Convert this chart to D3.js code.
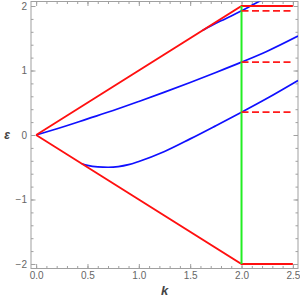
<!DOCTYPE html>
<html>
<head>
<meta charset="utf-8">
<script src="https://cdn.jsdelivr.net/npm/d3@7"></script>
<style>
  body { margin: 0; background: #fff; }
  svg { display: block; font-family: "Liberation Sans", Arial, sans-serif; }
</style>
</head>
<body>
<svg id="chart" width="300" height="300"></svg>
<script>
// branch starting at the origin
var kA = [0, 0.25, 0.5, 0.75, 1.0, 1.25, 1.5, 1.75, 2.0, 2.25, 2.55];
var eA = [0, 0.12, 0.25, 0.38, 0.52, 0.665, 0.815, 0.97, 1.13, 1.30, 1.535];

// lower branch (dips below zero)
var kB = [0.445, 0.5, 0.6, 0.7, 0.8, 0.9, 1.0, 1.25, 1.5, 1.75, 2.0, 2.25, 2.55];
var eB = [-0.445, -0.47, -0.494, -0.50, -0.49, -0.46, -0.41, -0.255, -0.06, 0.145, 0.354, 0.57, 0.846];

// top branch (leaves the red edge near k = 1.6)
var kC = [1.62, 1.7, 1.8, 1.9, 2.0, 2.1, 2.2];
var eC = [1.62, 1.69, 1.77, 1.845, 1.925, 2.01, 2.095];

// red edges
var upperEdgeK = [0, 2, 2.5], upperEdgeE = [0, 2, 2];
var lowerEdgeK = [0, 2, 2.5], lowerEdgeE = [0, -2, -2];

// green cut and dashed levels
var cutK = 2;
var cutRange = [-2, 2];
var levels = [1.925, 1.13, 0.354];
var levelEnd = 2.5;

var xTicks = [0, 0.5, 1, 1.5, 2, 2.5];
var yTicks = [-2, -1, 0, 1, 2];

var svg = d3.select("#chart");
var frameL = 31, frameR = 298, frameT = 1.5, frameB = 268.5;

var x = d3.scaleLinear().domain([-0.05, 2.55]).range([frameL, frameR]);
var y = d3.scaleLinear().domain([-2.07, 2.07]).range([frameB, frameT]);

var xMinor = d3.range(0, 26).map(function (i) { return i / 10; });
var yMinor = d3.range(-10, 11).map(function (i) { return i / 5; });

// clip for the curves
svg.append("clipPath").attr("id", "clip")
    .append("rect")
    .attr("x", frameL).attr("y", frameT)
    .attr("width", frameR - frameL).attr("height", frameB - frameT);

var frame = svg.append("g").attr("class", "frame");

function styleAxis(g) {
    g.select(".domain").remove();
    g.selectAll("line").attr("stroke", "#a0a0a0");
    g.selectAll("text").attr("fill", "#666").attr("font-size", 10);
}

// bottom
frame.append("g").attr("transform", "translate(0," + frameB + ")")
    .call(d3.axisBottom(x).tickValues(xMinor).tickSize(-2.5).tickFormat(""))
    .call(styleAxis);
frame.append("g").attr("transform", "translate(0," + frameB + ")")
    .call(d3.axisBottom(x).tickValues(xTicks).tickSize(-4.5).tickPadding(3)
        .tickFormat(d3.format(".1f")))
    .call(styleAxis);
// top
frame.append("g").attr("transform", "translate(0," + frameT + ")")
    .call(d3.axisTop(x).tickValues(xMinor).tickSize(-2.5).tickFormat(""))
    .call(styleAxis);
frame.append("g").attr("transform", "translate(0," + frameT + ")")
    .call(d3.axisTop(x).tickValues(xTicks).tickSize(-4.5).tickFormat(""))
    .call(styleAxis);
// left
frame.append("g").attr("transform", "translate(" + frameL + ",0)")
    .call(d3.axisLeft(y).tickValues(yMinor).tickSize(-2.5).tickFormat(""))
    .call(styleAxis);
frame.append("g").attr("transform", "translate(" + frameL + ",0)")
    .call(d3.axisLeft(y).tickValues(yTicks).tickSize(-4.5).tickPadding(4)
        .tickFormat(function (d) { return d < 0 ? "\u2212" + (-d) : d; }))
    .call(styleAxis);
// right
frame.append("g").attr("transform", "translate(" + frameR + ",0)")
    .call(d3.axisRight(y).tickValues(yMinor).tickSize(-2.5).tickFormat(""))
    .call(styleAxis);
frame.append("g").attr("transform", "translate(" + frameR + ",0)")
    .call(d3.axisRight(y).tickValues(yTicks).tickSize(-4.5).tickFormat(""))
    .call(styleAxis);

frame.append("rect")
    .attr("x", frameL).attr("y", frameT)
    .attr("width", frameR - frameL).attr("height", frameB - frameT)
    .attr("fill", "none").attr("stroke", "#a0a0a0").attr("stroke-width", 1);

// axis labels
svg.append("text")
    .attr("x", x(1.25)).attr("y", 295)
    .attr("text-anchor", "middle")
    .attr("font-size", 13).attr("font-weight", "bold").attr("font-style", "italic")
    .attr("fill", "#444")
    .text("k");
svg.append("text")
    .attr("x", 7).attr("y", y(0) + 4)
    .attr("text-anchor", "middle")
    .attr("font-size", 12).attr("font-weight", "bold").attr("font-style", "italic")
    .attr("fill", "#444")
    .text("\u03b5");

var plot = svg.append("g").attr("clip-path", "url(#clip)");

function pts(ks, es) {
    return ks.map(function (k, i) { return [k, es[i]]; });
}

var smooth = d3.line()
    .x(function (d) { return x(d[0]); })
    .y(function (d) { return y(d[1]); })
    .curve(d3.curveMonotoneX);
var straight = d3.line()
    .x(function (d) { return x(d[0]); })
    .y(function (d) { return y(d[1]); });

// blue branches
[pts(kA, eA), pts(kB, eB), pts(kC, eC)].forEach(function (p) {
    plot.append("path")
        .attr("d", smooth(p))
        .attr("fill", "none")
        .attr("stroke", "#1010ff")
        .attr("stroke-width", 1.7);
});

// red edges
[pts(upperEdgeK, upperEdgeE), pts(lowerEdgeK, lowerEdgeE)].forEach(function (p) {
    plot.append("path")
        .attr("d", straight(p))
        .attr("fill", "none")
        .attr("stroke", "#ff1010")
        .attr("stroke-width", 1.8);
});

// green cut
plot.append("path")
    .attr("d", straight([[cutK, cutRange[0]], [cutK, cutRange[1]]]))
    .attr("stroke", "#22ee22")
    .attr("stroke-width", 2);

// dashed levels
levels.forEach(function (v) {
    plot.append("path")
        .attr("d", straight([[cutK, v], [levelEnd, v]]))
        .attr("stroke", "#ff1a1a")
        .attr("stroke-width", 1.8)
        .attr("stroke-dasharray", "7,3.5");
});
</script>
</body>
</html>
